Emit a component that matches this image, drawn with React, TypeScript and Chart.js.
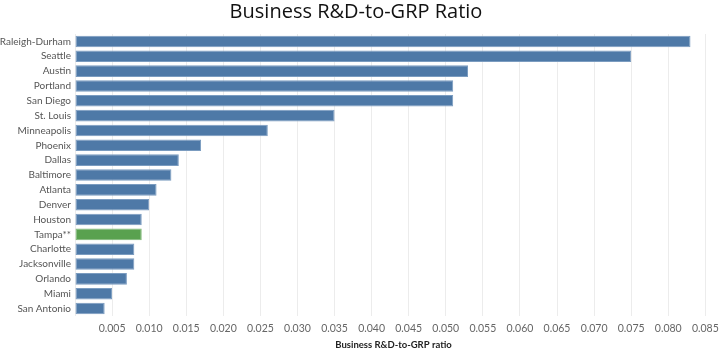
import React, { useEffect, useRef } from "react";
import { Chart, registerables } from "chart.js";

Chart.register(...registerables);

const cities = [
  "Raleigh-Durham", "Seattle", "Austin", "Portland", "San Diego", "St. Louis",
  "Minneapolis", "Phoenix", "Dallas", "Baltimore", "Atlanta", "Denver",
  "Houston", "Tampa**", "Charlotte", "Jacksonville", "Orlando", "Miami", "San Antonio",
];
const ratios = [
  0.083, 0.075, 0.053, 0.051, 0.051, 0.035,
  0.026, 0.017, 0.014, 0.013, 0.011, 0.010,
  0.009, 0.009, 0.008, 0.008, 0.007, 0.005, 0.004,
];
const highlighted = ["Tampa**"];
const xTicks = [0.005, 0.01, 0.015, 0.02, 0.025, 0.03, 0.035, 0.04, 0.045, 0.05, 0.055, 0.06, 0.065, 0.07, 0.075, 0.08, 0.085];

const BLUE = "#4e79a7";
const GREEN = "#59a14f";
const FONT = "'Open Sans', sans-serif";
const LABEL_FONT = "Lato, sans-serif";

export default function App() {
  const ref = useRef<HTMLCanvasElement | null>(null);
  useEffect(() => {
    if (!ref.current) return;
    const chart = new Chart(ref.current, {
      type: "bar",
      data: {
        labels: cities,
        datasets: [
          {
            data: ratios,
            backgroundColor: cities.map((c) => (highlighted.includes(c) ? GREEN : BLUE)),
            borderColor: cities.map((c) => (highlighted.includes(c) ? "#7fb876" : "#7b9cc0")),
            borderWidth: 1,
            borderSkipped: false,
            barPercentage: 0.78,
            categoryPercentage: 1,
          },
        ],
      },
      options: {
        indexAxis: "y",
        animation: false,
        responsive: false,
        maintainAspectRatio: false,
        layout: { padding: { left: 0, right: 8, top: 0, bottom: 0 } },
        plugins: {
          legend: { display: false },
          tooltip: { enabled: false },
          title: {
            display: true,
            text: "Business R&D-to-GRP Ratio",
            color: "#111",
            font: { family: FONT, size: 20, weight: "normal", lineHeight: 1.2 },
            padding: { top: 0, bottom: 10 },
          },
        },
        scales: {
          x: {
            type: "linear",
            min: 0,
            max: 0.0859,
            afterFit: (s: any) => { s.height = 35; s.paddingRight = 0; s.paddingLeft = 0; },
            afterBuildTicks: (s: any) => { s.ticks = [{ value: 0 }, ...xTicks.map((v) => ({ value: v }))]; },
            ticks: {
              includeBounds: false,
              padding: 6,
              color: "#666",
              font: { family: LABEL_FONT, size: 10.5 },
              callback: (v: any) => (Number(v) === 0 ? "" : Number(v).toFixed(3)),
            },
            grid: { color: "#ececec", drawTicks: false },
            border: { display: false },
            title: {
              display: true,
              text: "Business R&D-to-GRP ratio",
              color: "#222",
              font: { family: LABEL_FONT, size: 9.5, weight: "bold" },
              padding: { top: 4, bottom: 0 },
            },
          },
          y: {
            afterFit: (s: any) => { s.width = 75; },
            ticks: {
              padding: 4,
              color: "#555",
              font: { family: LABEL_FONT, size: 10 },
              autoSkip: false,
            },
            grid: { display: false, drawTicks: false },
            border: { display: false },
          },
        },
      },
    });
    return () => chart.destroy();
  }, []);
  return (
    <div style={{ position: "fixed", left: 0, top: 0, width: 720, height: 351, background: "#fff" }}>
      <canvas ref={ref} width={720} height={351} style={{ width: 720, height: 351 }} />
    </div>
  );
}
